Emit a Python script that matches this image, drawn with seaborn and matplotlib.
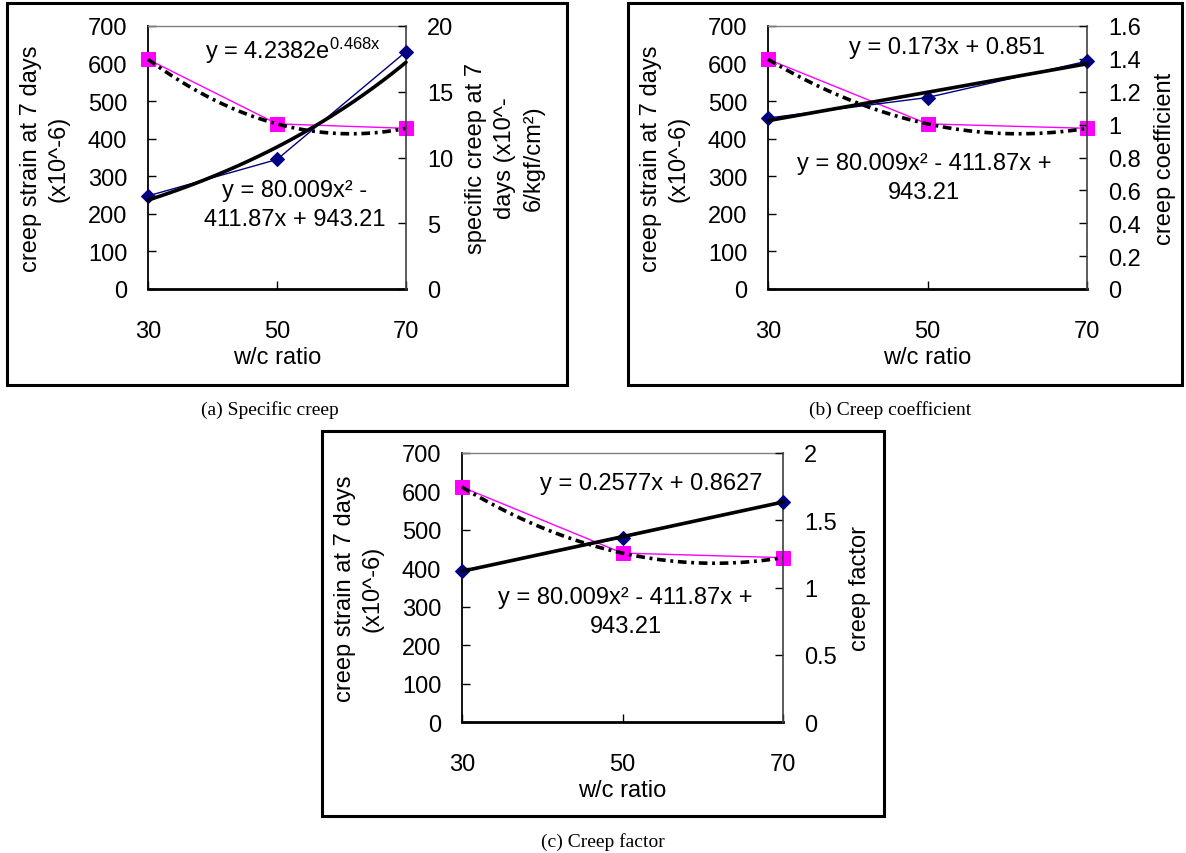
import numpy as np
import matplotlib
matplotlib.use("Agg")
import matplotlib.pyplot as plt
import seaborn as sns
from matplotlib.patches import Rectangle

# ---------------- data ----------------
wc_ratio = ["30", "50", "70"]
creep_strain = [611.35, 439.51, 427.68]          # x10^-6, left axis (all panels)
specific_creep = [7.08, 9.85, 18.05]             # panel (a), right axis
creep_coefficient = [1.04, 1.165, 1.386]         # panel (b), right axis
creep_factor = [1.124, 1.371, 1.639]             # panel (c), right axis

left_ticks = [0, 100, 200, 300, 400, 500, 600, 700]
right_ticks_a = [0, 5, 10, 15, 20]
right_labels_a = ["0", "5", "10", "15", "20"]
right_ticks_b = [0, 0.2, 0.4, 0.6, 0.8, 1.0, 1.2, 1.4, 1.6]
right_labels_b = ["0", "0.2", "0.4", "0.6", "0.8", "1", "1.2", "1.4", "1.6"]
right_ticks_c = [0, 0.5, 1.0, 1.5, 2.0]
right_labels_c = ["0", "0.5", "1", "1.5", "2"]

# ---------------- style ----------------
sns.set_theme(style="white")
plt.rcParams["font.family"] = ["Liberation Sans", "DejaVu Sans"]
plt.rcParams["mathtext.fontset"] = "custom"
plt.rcParams["mathtext.rm"] = "Liberation Sans"
plt.rcParams["mathtext.it"] = "Liberation Sans:italic"
plt.rcParams["text.color"] = "black"
plt.rcParams["axes.labelcolor"] = "black"
plt.rcParams["xtick.color"] = "black"
plt.rcParams["ytick.color"] = "black"

FS = 17
W, H = 1186, 854
fig = plt.figure(figsize=(W / 100, H / 100), dpi=100)
fig.patch.set_facecolor("white")

PINK = "#FF00FF"
NAVY = "#000080"


def fx(px):
    return px / W


def fy(py):
    return 1 - py / H


def panel(plot_px, box_px, right_vals, rticks, rlabels, rlabel, rlabel_dx,
          trend, eq_top, eq_top_pos, eq_quad, eq_quad_pos, caption, cap_pos):
    x0, y0, x1, y1 = plot_px
    ax = fig.add_axes([fx(x0), fy(y1), fx(x1 - x0), (y1 - y0) / H])
    ax2 = ax.twinx()
    pos = np.arange(1, len(wc_ratio) + 1)

    # series
    sns.lineplot(x=pos, y=creep_strain, ax=ax, color=PINK, lw=1.0,
                 marker="s", markersize=9.5, markeredgecolor=PINK,
                 markerfacecolor=PINK, clip_on=False, zorder=3)
    sns.lineplot(x=pos, y=right_vals, ax=ax2, color=NAVY, lw=1.0,
                 marker="D", markersize=7.5, markeredgecolor=NAVY,
                 markerfacecolor=NAVY, clip_on=False, zorder=3)

    # trendlines (fitted from the data)
    xs = np.linspace(1, len(wc_ratio), 120)
    qc = np.polyfit(pos, creep_strain, 2)
    ax.plot(xs, np.polyval(qc, xs), color="black", lw=2.6,
            ls=(0, (2.4, 1.3, 0.8, 1.3)), dash_capstyle="butt",
            zorder=4, clip_on=False)
    if trend == "exp":
        ec = np.polyfit(pos, np.log(right_vals), 1)
        ys = np.exp(np.polyval(ec, xs))
    else:
        lc = np.polyfit(pos, right_vals, 1)
        ys = np.polyval(lc, xs)
    ax2.plot(xs, ys, color="black", lw=2.6, zorder=4, clip_on=False)

    # axes
    ax.set_xlim(1, len(wc_ratio))
    ax.set_ylim(0, 700)
    ax2.set_ylim(0, rticks[-1])
    ax.set_xticks(pos)
    ax.set_xticklabels(wc_ratio)
    ax.set_yticks(left_ticks)
    ax.set_yticklabels([str(t) for t in left_ticks])
    ax2.set_yticks(rticks)
    ax2.set_yticklabels(rlabels)
    ax.tick_params(axis="both", direction="in", length=6, width=1,
                   labelsize=FS, colors="black", left=True, bottom=True)
    ax.tick_params(axis="y", pad=15)
    ax.tick_params(axis="x", pad=22)
    ax2.tick_params(axis="y", direction="in", length=6, width=1,
                    labelsize=FS, colors="black", right=True, pad=15)
    ax.grid(False)
    ax2.grid(False)

    for a in (ax, ax2):
        a.set_facecolor("none")
        for s in a.spines.values():
            s.set_visible(False)
    ax.spines["left"].set_visible(True)
    ax.spines["left"].set_color("black")
    ax.spines["left"].set_linewidth(1.3)
    ax.spines["bottom"].set_visible(True)
    ax.spines["bottom"].set_color("black")
    ax.spines["bottom"].set_linewidth(2.0)
    ax.spines["top"].set_visible(True)
    ax.spines["top"].set_color("#808080")
    ax.spines["top"].set_linewidth(1.0)
    ax2.spines["right"].set_visible(True)
    ax2.spines["right"].set_color("#404040")
    ax2.spines["right"].set_linewidth(1.2)

    ax.set_xlabel("w/c ratio", fontsize=FS, labelpad=3, color="black")
    ax.set_ylabel("creep strain at 7 days\n(x10^-6)", fontsize=FS,
                  color="black", va="center", ha="center", linespacing=1.3)
    ax.yaxis.set_label_coords(-103 / (x1 - x0), 0.5)
    ax2.set_ylabel(rlabel, fontsize=FS, color="black", va="center",
                   ha="center", rotation=90, linespacing=1.4)
    ax2.yaxis.set_label_coords(1 + rlabel_dx / (x1 - x0), 0.5)

    ax.text(eq_top_pos[0], eq_top_pos[1], eq_top, transform=ax.transAxes,
            fontsize=FS, ha="center", va="center", zorder=6)
    ax.text(eq_quad_pos[0], eq_quad_pos[1], eq_quad, transform=ax.transAxes,
            fontsize=FS, ha="center", va="center", zorder=6,
            linespacing=1.4)

    bx0, by0, bx1, by1 = box_px
    fig.patches.append(Rectangle((fx(bx0), fy(by1)), fx(bx1 - bx0),
                                 (by1 - by0) / H, transform=fig.transFigure,
                                 fill=False, edgecolor="black", lw=2.2,
                                 zorder=0))
    fig.text(fx(cap_pos[0]), fy(cap_pos[1]), caption,
             family=["Liberation Serif", "DejaVu Serif"], fontsize=14,
             ha="center", va="center")
    return ax, ax2


panel((148, 27, 406, 290), (7, 4, 567, 386), specific_creep,
      right_ticks_a, right_labels_a,
      "specific creep at 7\ndays (x10^-\n6/kgf/cm\u00b2)", 99,
      "exp", r"y = 4.2382e$^{\mathregular{0.468x}}$", (0.56, 0.91),
      "y = 80.009x\u00b2 -\n411.87x + 943.21", (0.57, 0.32),
      "(a) Specific creep", (270, 410))

panel((768, 27, 1087, 290), (628, 4, 1182, 386), creep_coefficient,
      right_ticks_b, right_labels_b, "creep coefficient", 78,
      "lin", "y = 0.173x + 0.851", (0.56, 0.92),
      "y = 80.009x\u00b2 - 411.87x +\n943.21", (0.49, 0.425),
      "(b) Creep coefficient", (890, 410))

panel((462, 454, 783, 723), (322, 432, 884, 817), creep_factor,
      right_ticks_c, right_labels_c, "creep factor", 77,
      "lin", "y = 0.2577x + 0.8627", (0.59, 0.89),
      "y = 80.009x\u00b2 - 411.87x +\n943.21", (0.51, 0.41),
      "(c) Creep factor", (603, 842))

fig.savefig("out.png", dpi=100, facecolor="white")
